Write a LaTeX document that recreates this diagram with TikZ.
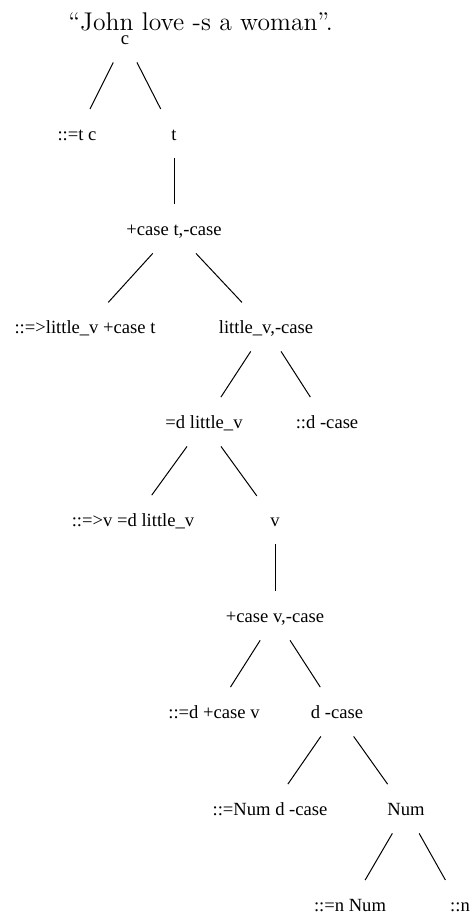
\documentclass[tikz,border=0pt]{standalone}
\usepackage{fontspec}
\newfontfamily\treefont{Liberation Serif}
\usepackage{tikz}
\usetikzlibrary{positioning}

\begin{document}
\begin{tikzpicture}[x=0.5pt,y=-0.5pt]
\tikzset{item/.style={anchor=base, font=\treefont\fontsize{9.3}{11}\selectfont, text height=6.5pt, text depth=1.5pt, minimum height=23pt, minimum width=16pt},
branch/.style={shorten >=1.5pt, line width=0.5pt}}
\useasboundingbox (0,0) rectangle (476,917);
\node[anchor=base west, inner sep=0pt, font=\fontsize{12.8}{15}\selectfont] (title) at (68,30) {``John love -s a woman''.};

\node[item] (c) at (125,44) {c};
\node[item] (tc) at (77,140) {::=t c};
\node[item] (t) at (174,140) {t};
\node[item] (tcase) at (174,235) {+case t,-case};
\node[item] (lv) at (85,333) {::=>little\_v +case t};
\node[item] (lvcase) at (266,333) {little\_v,-case};
\node[item] (dlv) at (204,428) {=d little\_v};
\node[item] (dcaseA) at (327,428) {::d -case};
\node[item] (vlv) at (133,526) {::=>v =d little\_v};
\node[item] (v) at (275,526) {v};
\node[item] (vcase) at (275,622) {+case v,-case};
\node[item] (dv) at (214,718) {::=d +case v};
\node[item] (dcase) at (337,718) {d -case};
\node[item] (numd) at (270,815) {::=Num d -case};
\node[item] (num) at (406,815) {Num};
\node[item] (nnum) at (350,911) {::=n Num};
\node[item] (n) at (460,911) {::n};

\draw[branch] (c) -- (tc);
\draw[branch] (c) -- (t);
\draw[branch] (t) -- (tcase);
\draw[branch] (tcase) -- (lv);
\draw[branch] (tcase) -- (lvcase);
\draw[branch] (lvcase) -- (dlv);
\draw[branch] (lvcase) -- (dcaseA);
\draw[branch] (dlv) -- (vlv);
\draw[branch] (dlv) -- (v);
\draw[branch] (v) -- (vcase);
\draw[branch] (vcase) -- (dv);
\draw[branch] (vcase) -- (dcase);
\draw[branch] (dcase) -- (numd);
\draw[branch] (dcase) -- (num);
\draw[branch] (num) -- (nnum);
\draw[branch] (num) -- (n);
\end{tikzpicture}
\end{document}
